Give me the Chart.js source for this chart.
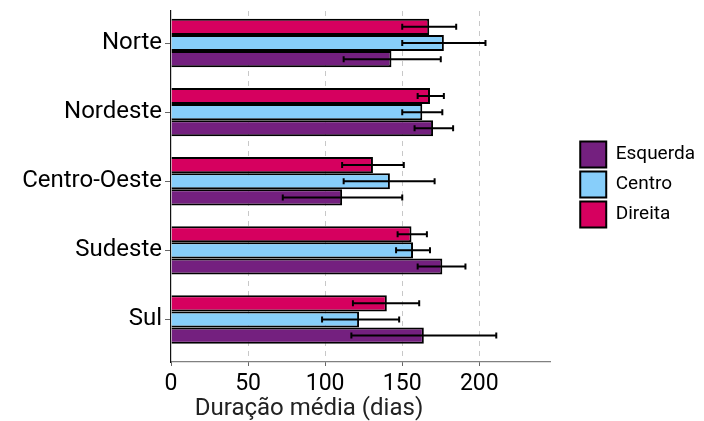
<!DOCTYPE html>
<html lang="pt">
<head>
<meta charset="UTF-8">
<title>Duração média por região</title>
<script src="https://cdn.jsdelivr.net/npm/chart.js"></script>
<style>
  body { margin: 0; background: #fff; }
  .wrap { width: 704px; height: 421px; }
</style>
</head>
<body>
<div class="wrap"><canvas id="chart"></canvas></div>
<script>
const regions = ['Norte', 'Nordeste', 'Centro-Oeste', 'Sudeste', 'Sul'];
const xTicks = [0, 50, 100, 150, 200];

// mean duration + error bar ends
const direita     = [167.5, 168, 131, 156, 140];
const direitaLow  = [150, 160, 111, 147, 118];
const direitaHigh = [185, 177, 151, 166, 161];

const centro      = [177, 163, 142, 157, 122];
const centroLow   = [150, 150, 112, 146, 98];
const centroHigh  = [204, 176, 171, 168, 148];

const esquerda     = [143, 170, 111, 176, 164];
const esquerdaLow  = [112, 158, 72.5, 160, 117];
const esquerdaHigh = [175, 183, 150, 191, 211];

const series = [
  { label: 'Direita',  values: direita,  low: direitaLow,  high: direitaHigh,  color: '#D6005F' },
  { label: 'Centro',   values: centro,   low: centroLow,   high: centroHigh,   color: '#87CEFA' },
  { label: 'Esquerda', values: esquerda, low: esquerdaLow, high: esquerdaHigh, color: '#74207F' }
];

const errorBars = {
  id: 'errorBars',
  afterDatasetsDraw(chart) {
    const ctx = chart.ctx;
    const xs = chart.scales.x;
    ctx.save();
    ctx.strokeStyle = '#000';
    ctx.lineWidth = 2;
    chart.data.datasets.forEach((ds, i) => {
      chart.getDatasetMeta(i).data.forEach((bar, j) => {
        const x0 = xs.getPixelForValue(ds.low[j]);
        const x1 = xs.getPixelForValue(ds.high[j]);
        const y = bar.y;
        ctx.beginPath();
        ctx.moveTo(x0, y); ctx.lineTo(x1, y);
        ctx.moveTo(x0, y - 3); ctx.lineTo(x0, y + 3);
        ctx.moveTo(x1, y - 3); ctx.lineTo(x1, y + 3);
        ctx.stroke();
      });
    });
    ctx.restore();
  }
};

// move legend off the plot a bit, and centre the axis caption like the original
const tweakLayout = {
  id: 'tweakLayout',
  afterLayout(chart) {
    chart.legend.left += 26;
    chart.legend.right += 26;
    chart.legend.top -= 2;
    chart.legend.bottom -= 2;
    chart.titleBlock.left = 0;
    chart.titleBlock.right = 618;
  }
};

new Chart(document.getElementById('chart'), {
  type: 'bar',
  data: {
    datasets: series.map(s => ({
      label: s.label,
      data: regions.map((_, j) => ({ x: s.values[j], y: j })),
      low: s.low,
      high: s.high,
      backgroundColor: s.color,
      borderColor: '#000',
      borderWidth: 2,
      categoryPercentage: 0.7,
      barPercentage: 1
    }))
  },
  options: {
    indexAxis: 'y',
    responsive: true,
    maintainAspectRatio: false,
    animation: false,
    layout: { padding: { top: 11, right: 25, bottom: 0, left: 0 } },
    scales: {
      x: {
        min: 0,
        max: 246,
        afterBuildTicks: s => { s.ticks = xTicks.map(v => ({ value: v })); },
        afterFit: s => { s.height = 32; },
        ticks: { font: { family: 'Roboto', size: 23 }, color: '#000', padding: 4 },
        grid: {
          color: c => c.tick && c.tick.value === 0 ? 'rgba(0,0,0,0)' : '#c8c8c8',
          tickColor: '#666',
          tickLength: 4,
          tickBorderDash: []
        },
        border: { color: '#808080', width: 1.2, dash: [5, 5] }
      },
      y: {
        type: 'linear',
        reverse: true,
        bounds: 'data',
        offset: false,
        min: -0.463,
        max: 4.615,
        afterBuildTicks: s => { s.ticks = regions.map((_, i) => ({ value: i })); },
        afterFit: s => { s.width = 171; s.paddingTop = 0; s.paddingBottom = 0; },
        ticks: { callback: v => regions[v], font: { family: 'Roboto', size: 24 }, color: '#000', padding: 3 },
        grid: { drawOnChartArea: false, offset: false, tickLength: 6, tickColor: '#666' },
        border: { color: '#111', width: 1.2 }
      }
    },
    plugins: {
      title: {
        display: true,
        position: 'bottom',
        text: 'Duração média (dias)',
        color: '#222',
        font: { family: 'Roboto', size: 24, weight: 'normal', lineHeight: 1 },
        padding: { top: 3, bottom: 0 }
      },
      legend: {
        position: 'right',
        fullSize: false,
        reverse: true,
        labels: {
          boxWidth: 26,
          boxHeight: 26,
          padding: 4,
          color: '#000',
          font: { family: 'Roboto', size: 19 }
        }
      },
      tooltip: { enabled: false }
    }
  },
  plugins: [errorBars, tweakLayout]
});
</script>
</body>
</html>
